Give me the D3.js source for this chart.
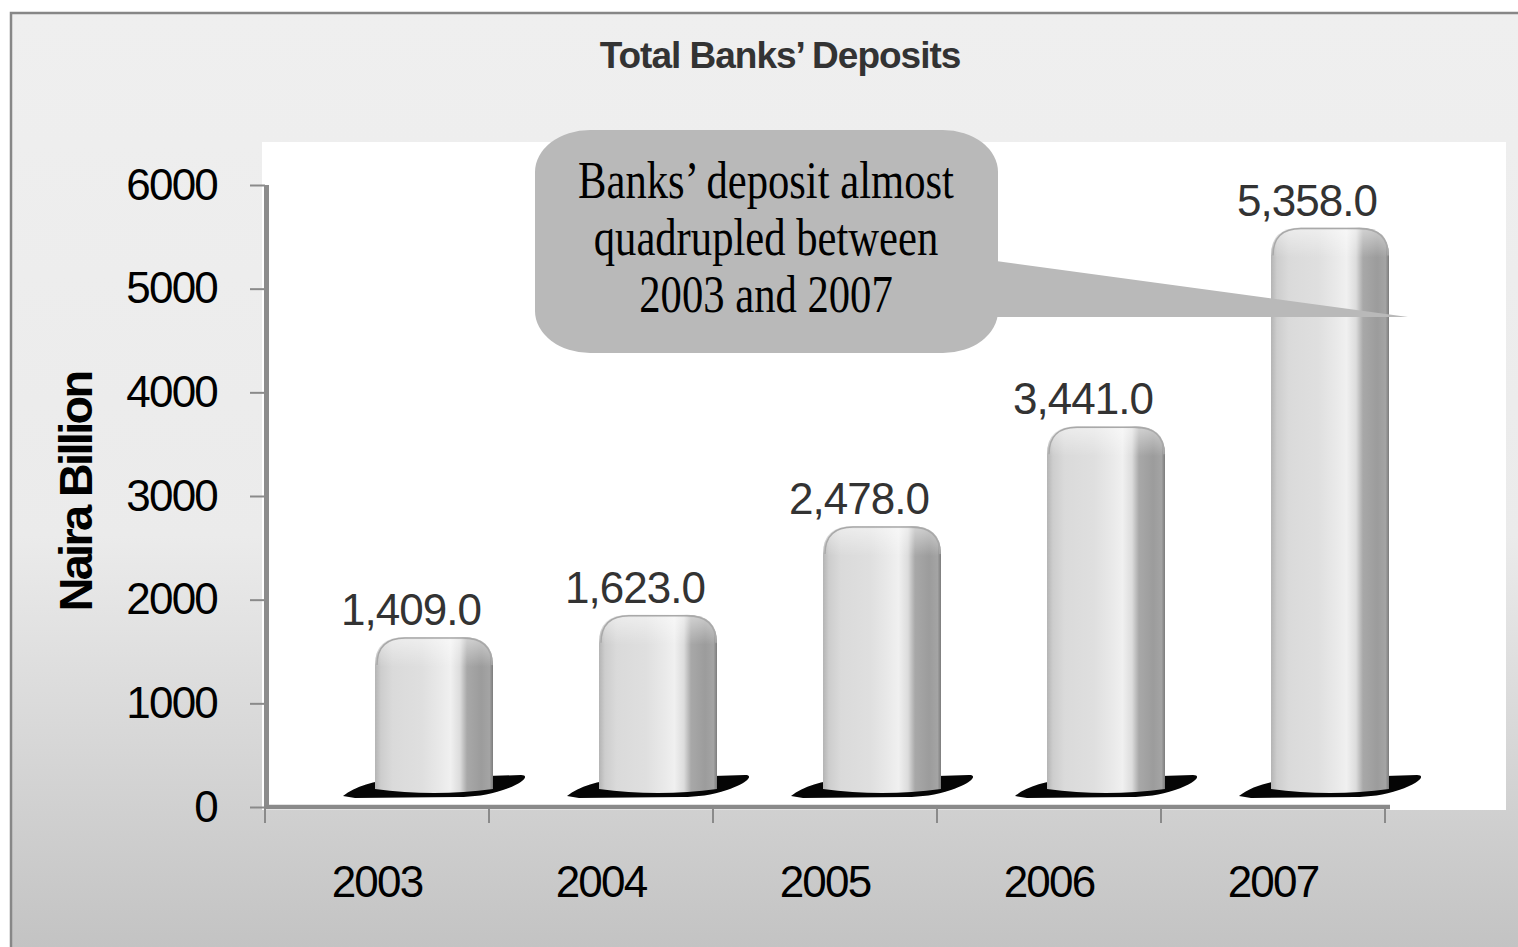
<!DOCTYPE html>
<html>
<head>
<meta charset="utf-8">
<script src="https://cdn.jsdelivr.net/npm/d3@7/dist/d3.min.js"></script>
<style>
  html, body { margin: 0; padding: 0; background: #ffffff; overflow: hidden; }
  svg { display: block; }
</style>
</head>
<body>
<script>
// Total banks' deposits, naira billion
const years = ["2003", "2004", "2005", "2006", "2007"];
const deposits = [1409.0, 1623.0, 2478.0, 3441.0, 5358.0];
const yTicks = [0, 1000, 2000, 3000, 4000, 5000, 6000];
const titleText = "Total Banks\u2019 Deposits";
const yTitle = "Naira Billion";
const noteLines = ["Banks\u2019 deposit almost", "quadrupled between", "2003 and 2007"];

const W = 1518, H = 947;
const svg = d3.select("body").append("svg").attr("width", W).attr("height", H);
const defs = svg.append("defs");

// background gradient of the chart frame
const bg = defs.append("linearGradient").attr("id", "bgGrad")
  .attr("gradientUnits", "userSpaceOnUse").attr("x1", 0).attr("x2", 0).attr("y1", 13).attr("y2", 947);
[[0, "#efefef"], [0.56, "#ebebeb"], [1, "#c3c3c3"]].forEach(s =>
  bg.append("stop").attr("offset", s[0]).attr("stop-color", s[1]));

// cylindrical shading of the bars
const barG = defs.append("linearGradient").attr("id", "barGrad").attr("x1", 0).attr("x2", 1).attr("y1", 0).attr("y2", 0);
[[0, "#b4b4b4"], [0.05, "#cdcdcd"], [0.15, "#dadada"], [0.4, "#dfdfdf"], [0.55, "#e9e9e9"],
 [0.64, "#f0f0f0"], [0.72, "#dcdcdc"], [0.78, "#a8a8a8"], [0.9, "#9c9c9c"], [0.97, "#a4a4a4"], [1, "#7c7c7c"]]
  .forEach(s => barG.append("stop").attr("offset", s[0]).attr("stop-color", s[1]));

const capG = defs.append("linearGradient").attr("id", "capGrad").attr("x1", 0).attr("x2", 0).attr("y1", 0).attr("y2", 1);
[[0, "#ffffff", 0.0], [0.02, "#ffffff", 0.45], [0.12, "#ffffff", 0.2], [0.2, "#ffffff", 0]]
  .forEach(s => capG.append("stop").attr("offset", s[0]).attr("stop-color", s[1]).attr("stop-opacity", s[2]));

// frame
svg.append("rect").attr("x", 11).attr("y", 13).attr("width", 1600).attr("height", 1000)
  .attr("fill", "url(#bgGrad)").attr("stroke", "#878787").attr("stroke-width", 2.5);

// plot area
svg.append("rect").attr("x", 262).attr("y", 142).attr("width", 1244).attr("height", 668).attr("fill", "#ffffff");

// title
svg.append("text").attr("x", 780).attr("y", 68).attr("text-anchor", "middle")
  .attr("font-family", "Arial, 'Liberation Sans', sans-serif").attr("font-weight", "bold")
  .attr("font-size", 37).attr("letter-spacing", "-1px").attr("fill", "#333333").text(titleText);

// scales
const x = d3.scaleBand().domain(years).range([265, 1385]).padding(0);
const y = d3.scaleLinear().domain([0, 6000]).range([807, 185]);

const floorY = y(0) - 14;      // base of the 3D bars
const depthRise = 24;          // top of bar raised by perspective depth
const barOffset = 110, barW = 118, labelOffset = 146;

// y axis
const yAxis = d3.axisLeft(y).tickValues(yTicks).tickSize(15).tickPadding(33).tickSizeOuter(0).tickFormat(d3.format("d"));
const gy = svg.append("g").attr("transform", "translate(265,0)").call(yAxis);
gy.select(".domain").remove();
gy.selectAll(".tick line").attr("stroke", "#8a8a8a").attr("stroke-width", 2);
gy.selectAll(".tick text").attr("font-family", "Arial, 'Liberation Sans', sans-serif")
  .attr("font-size", 44).attr("letter-spacing", "-1.8px").attr("fill", "#000");

// axis walls
svg.append("line").attr("x1", 266.5).attr("x2", 266.5).attr("y1", y(6000)).attr("y2", y(0) + 2)
  .attr("stroke", "#8c8c8c").attr("stroke-width", 5);
svg.append("line").attr("x1", 264).attr("x2", 1390).attr("y1", 807).attr("y2", 807)
  .attr("stroke", "#8a8a8a").attr("stroke-width", 4.5);

// x axis labels
const xAxis = d3.axisBottom(x).tickSize(0).tickPadding(59);
const gx = svg.append("g").attr("transform", "translate(0,807)").call(xAxis);
gx.select(".domain").remove();
gx.selectAll(".tick text").attr("font-family", "Arial, 'Liberation Sans', sans-serif")
  .attr("font-size", 44).attr("letter-spacing", "-1.8px").attr("fill", "#000");

// x tick marks at category boundaries
const edges = years.map(d => x(d)).concat([x.range()[1]]);
svg.append("g").selectAll("line").data(edges).join("line")
  .attr("x1", d => d).attr("x2", d => d).attr("y1", 809).attr("y2", 823)
  .attr("stroke", "#8a8a8a").attr("stroke-width", 2);

// y axis title
svg.append("text").attr("transform", "translate(92,492) rotate(-90)").attr("text-anchor", "middle")
  .attr("font-family", "Arial, 'Liberation Sans', sans-serif").attr("font-weight", "bold")
  .attr("font-size", 47).attr("letter-spacing", "-2.7px").attr("fill", "#000").text(yTitle);

const data = years.map((yr, i) => ({ yr, v: deposits[i] }));

// floor shadows
function shadowPath(bx, bw, b) {
  return `M${bx - 32},${b + 3} C${bx - 20},${b - 7} ${bx},${b - 12} ${bx + 20},${b - 14}` +
    ` L${bx + bw + 28},${b - 18} C${bx + bw + 37},${b - 18} ${bx + bw + 31},${b - 10} ${bx + bw + 10},${b - 3}` +
    ` C${bx + bw - 5},${b + 2} ${bx + bw - 20},${b + 4} ${bx + bw - 35},${b + 4} L${bx - 20},${b + 5} Z`;
}
svg.append("g").selectAll("path").data(data).join("path")
  .attr("d", d => shadowPath(x(d.yr) + barOffset, barW, floorY))
  .attr("fill", "#050505");

// bars with rounded tops
function barPath(bx, top, bw, bottom) {
  const rx = 30, ry = 28;
  return `M${bx},${bottom - 4} L${bx},${top + ry} Q${bx},${top} ${bx + rx},${top}` +
    ` L${bx + bw - rx},${top} Q${bx + bw},${top} ${bx + bw},${top + ry}` +
    ` L${bx + bw},${bottom - 4} Q${bx + bw / 2},${bottom + 4} ${bx},${bottom - 4} Z`;
}
const bars = svg.append("g");
bars.selectAll("path.bar").data(data).join("path").attr("class", "bar")
  .attr("d", d => barPath(x(d.yr) + barOffset, y(d.v) - depthRise, barW, floorY))
  .attr("fill", "url(#barGrad)");
bars.selectAll("path.cap").data(data).join("path").attr("class", "cap")
  .attr("d", d => barPath(x(d.yr) + barOffset, y(d.v) - depthRise, barW, y(d.v) - depthRise + 150))
  .attr("fill", "url(#capGrad)");
bars.selectAll("path.rim").data(data).join("path").attr("class", "rim")
  .attr("d", d => {
    const bx = x(d.yr) + barOffset, top = y(d.v) - depthRise;
    return `M${bx + 2},${top + 28} Q${bx + 2},${top + 1} ${bx + 30},${top + 1} L${barW + bx - 30},${top + 1} Q${bx + barW - 1},${top + 1} ${bx + barW - 1},${top + 28}`;
  })
  .attr("fill", "none").attr("stroke", "#a9a9a9").attr("stroke-width", 1.5);

// value labels
svg.append("g").selectAll("text").data(data).join("text")
  .attr("x", d => x(d.yr) + labelOffset).attr("y", d => y(d.v) - depthRise - 12)
  .attr("text-anchor", "middle").attr("font-family", "Arial, 'Liberation Sans', sans-serif")
  .attr("font-size", 44).attr("letter-spacing", "-1px").attr("fill", "#333333")
  .text(d => d3.format(",.1f")(d.v));

// callout bubble with pointer to the last bar
const note = svg.append("g");
const cx0 = 535, cx1 = 998, cy0 = 130, cy1 = 353, rx = 55, ry = 42;
const tip = [1408, 317];
note.append("path")
  .attr("d", `M${cx0 + rx},${cy0} L${cx1 - rx},${cy0} A${rx},${ry} 0 0 1 ${cx1},${cy0 + ry}` +
    ` L${cx1},${cy1 - ry} A${rx},${ry} 0 0 1 ${cx1 - rx},${cy1} L${cx0 + rx},${cy1}` +
    ` A${rx},${ry} 0 0 1 ${cx0},${cy1 - ry} L${cx0},${cy0 + ry} A${rx},${ry} 0 0 1 ${cx0 + rx},${cy0} Z`)
  .attr("fill", "#b9b9b9");
note.append("path")
  .attr("d", `M${cx1 - 2},${261} L${tip[0]},${tip[1]} L${cx1 - 2},${tip[1]} Z`)
  .attr("fill", "#b9b9b9");

const noteText = note.append("g").attr("transform", "translate(766,0) scale(0.82,1)");
noteText.selectAll("text").data(noteLines).join("text")
  .attr("x", 0).attr("y", (d, i) => 198 + i * 57)
  .attr("text-anchor", "middle").attr("font-family", "'Liberation Serif', 'DejaVu Serif', serif")
  .attr("font-size", 52).attr("fill", "#000").text(d => d);
</script>
</body>
</html>
